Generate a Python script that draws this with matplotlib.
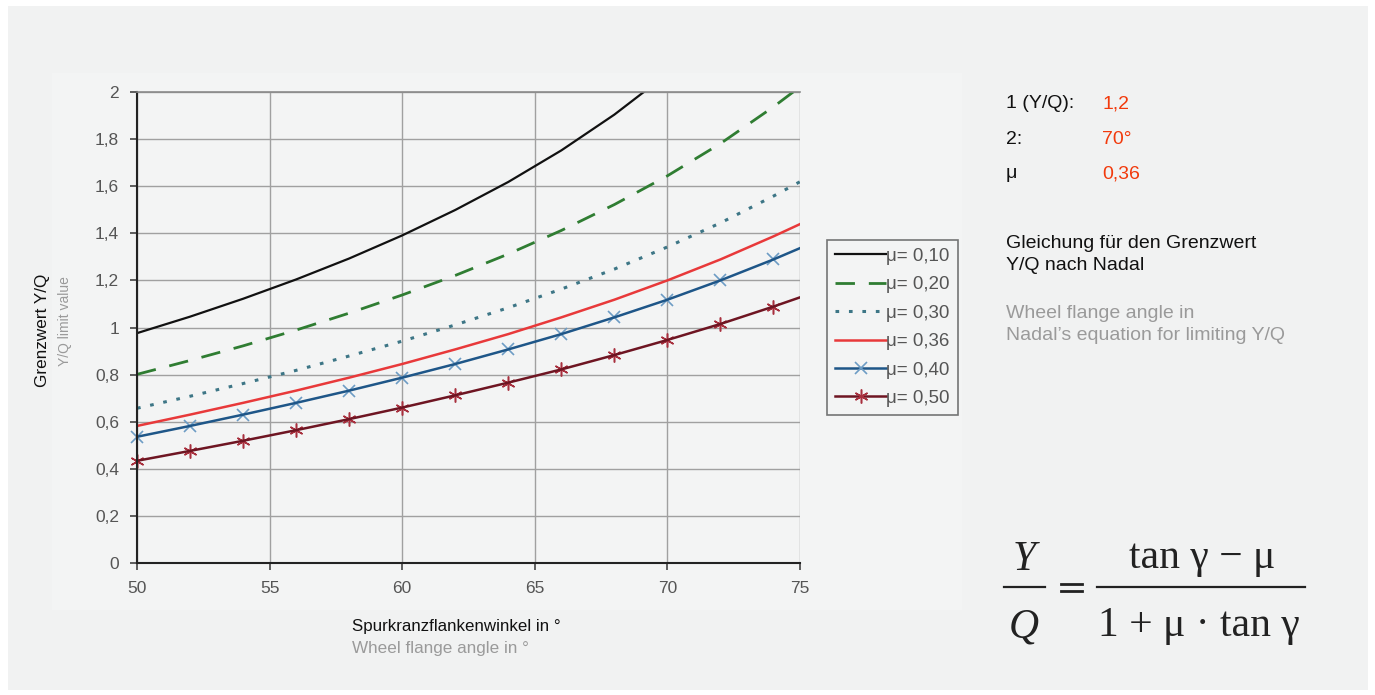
import matplotlib
matplotlib.use("Agg")
import matplotlib.pyplot as plt
from matplotlib.lines import Line2D
from matplotlib.patches import Rectangle

# ---- data ----
angles = [50, 52, 54, 56, 58, 60, 62, 64, 66, 68, 70, 72, 74, 75]
mu_010 = [0.976, 1.046, 1.122, 1.204, 1.293, 1.391, 1.499, 1.618, 1.752, 1.904, 2.077, None, None, None]
mu_020 = [0.801, 0.860, 0.922, 0.989, 1.061, 1.138, 1.221, 1.312, 1.412, 1.522, 1.644, 1.781, 1.937, 2.022]
mu_030 = [0.657, 0.708, 0.762, 0.818, 0.879, 0.942, 1.011, 1.084, 1.163, 1.248, 1.342, 1.444, 1.558, 1.619]
mu_036 = [0.582, 0.630, 0.680, 0.732, 0.787, 0.845, 0.907, 0.972, 1.043, 1.118, 1.200, 1.289, 1.387, 1.439]
mu_040 = [0.536, 0.582, 0.630, 0.680, 0.732, 0.787, 0.845, 0.907, 0.972, 1.043, 1.118, 1.200, 1.289, 1.337]
mu_050 = [0.434, 0.476, 0.519, 0.564, 0.611, 0.660, 0.712, 0.766, 0.822, 0.883, 0.947, 1.015, 1.089, 1.128]
labels = ["μ= 0,10", "μ= 0,20", "μ= 0,30", "μ= 0,36", "μ= 0,40", "μ= 0,50"]
x_ticks = [50, 55, 60, 65, 70, 75]
y_ticks = [0, 0.2, 0.4, 0.6, 0.8, 1.0, 1.2, 1.4, 1.6, 1.8, 2.0]
y_ticklabels = ["0", "0,2", "0,4", "0,6", "0,8", "1", "1,2", "1,4", "1,6", "1,8", "2"]

W, H = 1375, 695
fig = plt.figure(figsize=(W / 100, H / 100), dpi=100)
fig.patch.set_facecolor("white")

def fx(px):
    return px / W

def fy(py):
    return 1 - py / H

# background panel
fig.add_artist(Rectangle((fx(8), fy(690)), fx(1360), (690 - 6) / H,
                         transform=fig.transFigure, facecolor="#f1f2f2",
                         edgecolor="none", zorder=-10))
fig.add_artist(Rectangle((fx(52), fy(610)), fx(910), (610 - 73) / H,
                         transform=fig.transFigure, facecolor="#f3f4f4",
                         edgecolor="none", zorder=-9))

ax = fig.add_axes([fx(137), fy(563), fx(800 - 137), (563 - 92) / H])
ax.set_facecolor("none")

def clean(ys):
    xs = [a for a, v in zip(angles, ys) if v is not None]
    vs = [v for v in ys if v is not None]
    return xs, vs

tick_font = dict(family="Liberation Sans", size=12.5, color="#555555")

x, y = clean(mu_010)
ax.plot(x, y, color="#111111", lw=1.6, label=labels[0])
x, y = clean(mu_020)
ax.plot(x, y, color="#2f7d32", lw=2.0, dashes=(7, 5), label=labels[1])
x, y = clean(mu_030)
ax.plot(x, y, color="#3d7686", lw=2.2, dashes=(1.2, 3.2), label=labels[2])
x, y = clean(mu_036)
ax.plot(x, y, color="#e8393a", lw=1.8, label=labels[3])
x, y = clean(mu_040)
ax.plot(x[:-1], y[:-1], ls="none", marker="x", ms=9, mew=1.2, color="#6d9cc4", clip_on=False)
ax.plot(x, y, color="#1e5688", lw=1.8)
x, y = clean(mu_050)
ax.plot(x[:-1], y[:-1], ls="none", marker=(6, 2, 0), ms=10, mew=1.1, color="#a8303e", clip_on=False)
ax.plot(x, y, color="#6e1522", lw=1.8)

ax.set_xlim(50, 75)
ax.set_ylim(0, 2)
ax.set_xticks(x_ticks)
ax.set_xticklabels([str(t) for t in x_ticks], **tick_font)
ax.set_yticks(y_ticks)
ax.set_yticklabels(y_ticklabels, **tick_font)
ax.grid(True, color="#a0a0a0", lw=1.0)
ax.set_axisbelow(True)
ax.spines["top"].set_color("#8a8a8a")
ax.spines["top"].set_linewidth(1.2)
ax.spines["right"].set_visible(False)
ax.spines["left"].set_color("#222222")
ax.spines["bottom"].set_color("#222222")
ax.spines["left"].set_linewidth(1.5)
ax.spines["bottom"].set_linewidth(1.5)
ax.tick_params(axis="both", direction="out", length=5, width=1.2, color="#444444", pad=8)

# legend
handles = [
    Line2D([], [], color="#111111", lw=1.6),
    Line2D([], [], color="#2f7d32", lw=2.0, dashes=(7, 5)),
    Line2D([], [], color="#3d7686", lw=2.2, dashes=(1.2, 3.2)),
    Line2D([], [], color="#e8393a", lw=1.8),
    Line2D([], [], color="#1e5688", lw=1.8, marker="x", ms=9, mew=1.2, mec="#6d9cc4"),
    Line2D([], [], color="#6e1522", lw=1.8, marker=(6, 2, 0), ms=10, mew=1.1, mec="#a8303e"),
]
leg = fig.legend(handles, labels, loc="upper left",
                 bbox_to_anchor=(fx(827), fy(240)), bbox_transform=fig.transFigure,
                 frameon=True, fancybox=False, handlelength=2.75, handletextpad=0.0,
                 labelspacing=0.6, borderpad=0.42, borderaxespad=0,
                 prop=dict(family="Liberation Sans", size=13.5), labelcolor="#555555",
                 markerfirst=True)
leg.get_frame().set_edgecolor("#555555")
leg.get_frame().set_facecolor("#f4f5f5")
leg.get_frame().set_linewidth(1.2)

# axis titles
sans = "Liberation Sans"
fig.text(fx(43), fy(274), "Grenzwert Y/Q", rotation=90, ha="center", va="top",
         family=sans, size=12.3, color="#111111")
fig.text(fx(65), fy(276), "Y/Q limit value", rotation=90, ha="center", va="top",
         family=sans, size=10, color="#9a9a9a")
fig.text(fx(352), fy(626), "Spurkranzflankenwinkel in °", ha="left", va="center",
         family=sans, size=12.2, color="#111111")
fig.text(fx(352), fy(649), "Wheel flange angle in °", ha="left", va="center",
         family=sans, size=12.3, color="#9a9a9a")

# right-hand text
red = "#f23a0c"
rt = dict(family=sans, size=14, va="center", ha="left")
fig.text(fx(1006), fy(104), "1 (Y/Q):", color="#111111", **rt)
fig.text(fx(1102), fy(104), "1,2", color=red, **rt)
fig.text(fx(1006), fy(140), "2:", color="#111111", **rt)
fig.text(fx(1102), fy(140), "70°", color=red, **rt)
fig.text(fx(1006), fy(174), "μ", color="#111111", **rt)
fig.text(fx(1102), fy(174), "0,36", color=red, **rt)
fig.text(fx(1006), fy(243), "Gleichung für den Grenzwert", color="#111111", **rt)
fig.text(fx(1006), fy(266), "Y/Q nach Nadal", color="#111111", **rt)
fig.text(fx(1006), fy(313), "Wheel flange angle in", color="#9a9a9a", **rt)
fig.text(fx(1006), fy(336), "Nadal’s equation for limiting Y/Q", color="#9a9a9a", **rt)

# formula
serif = "Liberation Serif"
fc = "#222222"
fig.text(fx(1024), fy(570), "Y", family=serif, style="italic", size=30, ha="center",
         va="baseline", color=fc)
fig.text(fx(1024), fy(637), "Q", family=serif, style="italic", size=30, ha="center",
         va="baseline", color=fc)
fig.add_artist(Line2D([fx(1004), fx(1045)], [fy(587), fy(587)], color=fc, lw=1.6,
                      transform=fig.transFigure))
fig.add_artist(Line2D([fx(1061), fx(1082)], [fy(584), fy(584)], color=fc, lw=2.0,
                      transform=fig.transFigure))
fig.add_artist(Line2D([fx(1061), fx(1082)], [fy(591), fy(591)], color=fc, lw=2.0,
                      transform=fig.transFigure))
fig.add_artist(Line2D([fx(1097), fx(1305)], [fy(587), fy(587)], color=fc, lw=1.6,
                      transform=fig.transFigure))
fig.text(fx(1202), fy(568), "tan γ − μ", family=serif, size=30, ha="center",
         va="baseline", color=fc)
fig.text(fx(1199), fy(636), "1 + μ · tan γ", family=serif, size=30, ha="center",
         va="baseline", color=fc)

fig.savefig("out.png", dpi=100, facecolor=fig.get_facecolor())
